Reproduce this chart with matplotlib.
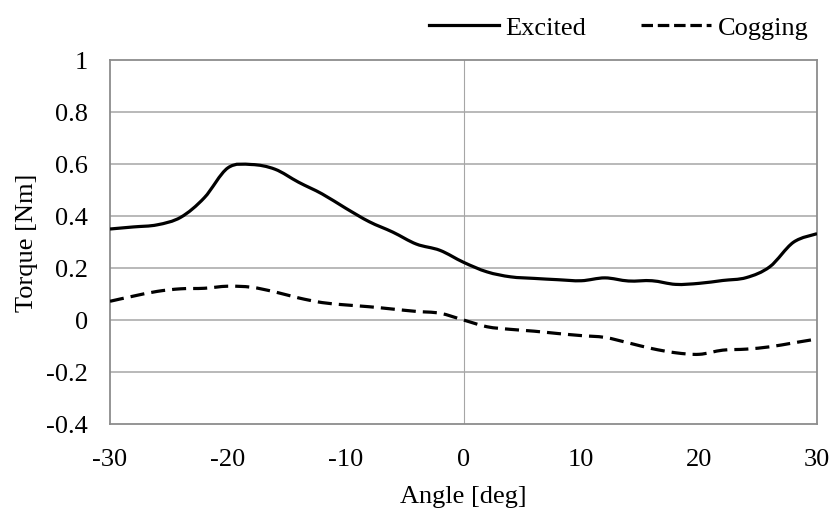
import numpy as np
import matplotlib
matplotlib.use("Agg")
import matplotlib.pyplot as plt
from matplotlib.path import Path
from matplotlib.patches import PathPatch
from matplotlib.lines import Line2D

plt.rcParams['font.family'] = ['Liberation Serif', 'DejaVu Serif']

# data
angle = [-30, -28, -26, -24, -22, -20, -18, -16, -14, -12, -10, -8, -6, -4, -2, 0,
         2, 4, 6, 8, 10, 12, 14, 16, 18, 20, 22, 24, 26, 28, 30]
excited = [0.350, 0.358, 0.366, 0.395, 0.470, 0.585, 0.598, 0.580, 0.530, 0.485,
           0.430, 0.378, 0.338, 0.292, 0.268, 0.222, 0.185, 0.166, 0.160, 0.155,
           0.151, 0.162, 0.150, 0.151, 0.137, 0.141, 0.152, 0.163, 0.205, 0.299, 0.332]
cogging = [0.072, 0.092, 0.110, 0.120, 0.122, 0.130, 0.126, 0.108, 0.085, 0.067,
           0.058, 0.051, 0.042, 0.033, 0.026, 0.000, -0.026, -0.036, -0.043, -0.052,
           -0.060, -0.067, -0.088, -0.110, -0.126, -0.132, -0.116, -0.112, -0.103,
           -0.088, -0.073]
xticks = [-30, -20, -10, 0, 10, 20, 30]
yticks = [-0.4, -0.2, 0, 0.2, 0.4, 0.6, 0.8, 1]
ytick_labels = ['-0.4', '-0.2', '0', '0.2', '0.4', '0.6', '0.8', '1']


def smooth_path(x, y):
    # Excel-like smoothed line: Catmull-Rom segments as cubic Bezier curves
    p = np.column_stack([x, y]).astype(float)
    verts = [p[0]]
    codes = [Path.MOVETO]
    n = len(p)
    for i in range(n - 1):
        p0 = p[i - 1] if i > 0 else p[i]
        p1, p2 = p[i], p[i + 1]
        p3 = p[i + 2] if i + 2 < n else p[i + 1]
        verts += [p1 + (p2 - p0) / 6, p2 - (p3 - p1) / 6, p2]
        codes += [Path.CURVE4] * 3
    return Path(verts, codes)


fig = plt.figure(figsize=(8.32, 5.10), dpi=100)
ax = fig.add_axes([110/832, 1-425/510, 707/832, 364/510])

grid_col = '#a6a6a6'
ax.axvline(0, color=grid_col, lw=0.8, zorder=1)
for yv in yticks[1:-1]:
    ax.axhline(yv, color=grid_col, lw=1.1, zorder=1)

lw = 2.3
ax.add_patch(PathPatch(smooth_path(angle, excited), facecolor='none',
                       edgecolor='black', lw=lw, joinstyle='round', zorder=3))
ax.add_patch(PathPatch(smooth_path(angle, cogging), facecolor='none',
                       edgecolor='black', lw=lw, linestyle=(0, (4.4, 2.2)),
                       capstyle='butt', zorder=3))

ax.set_xlim(-30, 30)
ax.set_ylim(-0.4, 1)
ax.set_xticks(xticks)
ax.set_xticklabels([str(v) for v in xticks])
ax.set_yticks(yticks)
ax.set_yticklabels(ytick_labels)
ax.tick_params(length=0, labelsize=19)
ax.tick_params(axis='x', pad=17)
ax.tick_params(axis='y', pad=16)
for s in ax.spines.values():
    s.set_color('#8c8c8c')
    s.set_linewidth(1.3)

ax.set_xlabel('Angle [deg]', fontsize=19, labelpad=11)
ax.set_ylabel('Torque [Nm]', fontsize=19, labelpad=6)

handles = [Line2D([], [], color='black', lw=lw),
           Line2D([], [], color='black', lw=lw, dashes=(3.6, 1.5))]
fig.legend(handles, ['Excited', 'Cogging'], loc='center right',
           bbox_to_anchor=(0.978, 1-28/510), ncol=2, frameon=False,
           fontsize=19, handlelength=2.65, handletextpad=0.27,
           columnspacing=2.05, borderpad=0.2, borderaxespad=0.0)

fig.savefig('out.png', dpi=100)
